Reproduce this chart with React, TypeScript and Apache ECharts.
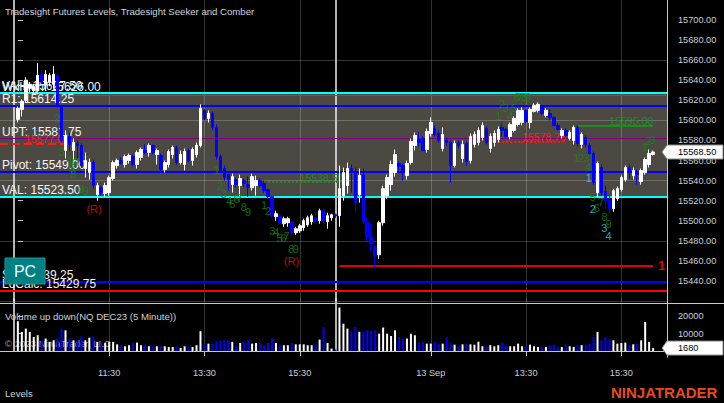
import React, { useEffect, useRef } from "react";
import * as echarts from "echarts";

const FONT = "'Liberation Sans', Arial, sans-serif";

// ---- NQ DEC23 5-minute bars, Sep 12 09:35 .. Sep 13 16:10 (RTH) ----
const opens = [
  15601, 15611, 15620, 15632, 15630, 15630, 15646, 15636, 15638, 15636,
  15645, 15614, 15570, 15584, 15570, 15577, 15575, 15552, 15548, 15558,
  15526, 15533, 15527, 15528, 15542, 15555, 15560, 15556, 15560, 15564,
  15556, 15563, 15570, 15568, 15575, 15566, 15565, 15551, 15556, 15566,
  15573, 15558, 15556, 15570, 15560, 15566, 15575, 15610, 15602, 15607,
  15593, 15564, 15552, 15546, 15536, 15541, 15535, 15540, 15536, 15533,
  15535, 15540, 15537, 15531, 15524, 15504, 15505, 15497, 15498, 15499,
  15488, 15490, 15493, 15496, 15499, 15503, 15500, 15510, 15499, 15503,
  15506,
  15505, 15525, 15535, 15552, 15549, 15526, 15546, 15499, 15484, 15474,
  15466, 15498, 15525, 15536, 15548, 15557, 15555, 15545, 15558, 15575,
  15581, 15582, 15571, 15587, 15592, 15587, 15572, 15580, 15578, 15555,
  15578, 15562, 15577, 15560, 15576, 15578, 15583, 15592, 15572, 15578,
  15581, 15593, 15591, 15584, 15590, 15596, 15598, 15610, 15598, 15609,
  15610, 15614, 15605, 15607, 15603, 15595, 15585, 15590, 15582, 15580,
  15593, 15576, 15583, 15575, 15567, 15528, 15553, 15529, 15521, 15512,
  15522, 15531, 15541, 15553, 15545, 15548, 15539, 15548, 15556, 15566,
];
const highs = [
  15614, 15621, 15643, 15638, 15636, 15657, 15650, 15650, 15647, 15654,
  15647, 15615, 15590, 15588, 15582, 15580, 15577, 15568, 15562, 15561,
  15538, 15535, 15538, 15545, 15560, 15562, 15563, 15566, 15567, 15566,
  15570, 15573, 15576, 15577, 15576, 15572, 15567, 15560, 15571, 15575,
  15575, 15570, 15572, 15572, 15573, 15578, 15616, 15611, 15610, 15609,
  15596, 15566, 15555, 15547, 15547, 15543, 15546, 15542, 15544, 15547,
  15545, 15542, 15540, 15532, 15525, 15510, 15506, 15504, 15504, 15500,
  15494, 15497, 15502, 15505, 15507, 15509, 15512, 15512, 15508, 15507,
  15507,
  15555, 15553, 15558, 15556, 15553, 15552, 15552, 15503, 15497, 15476,
  15500, 15535, 15546, 15560, 15571, 15559, 15557, 15560, 15582, 15588,
  15588, 15584, 15592, 15603, 15595, 15590, 15593, 15583, 15580, 15580,
  15580, 15580, 15579, 15587, 15589, 15593, 15598, 15594, 15587, 15590,
  15594, 15598, 15593, 15598, 15604, 15612, 15613, 15611, 15613, 15617,
  15618, 15615, 15612, 15611, 15604, 15597, 15592, 15592, 15590, 15595,
  15595, 15588, 15585, 15577, 15569, 15559, 15556, 15535, 15526, 15532,
  15534, 15545, 15555, 15556, 15553, 15551, 15552, 15563, 15571, 15570,
];
const lows = [
  15598, 15604, 15618, 15628, 15627, 15626, 15636, 15630, 15634, 15632,
  15613, 15578, 15562, 15570, 15560, 15562, 15553, 15543, 15541, 15532,
  15520, 15525, 15524, 15525, 15540, 15552, 15556, 15553, 15557, 15554,
  15552, 15560, 15566, 15564, 15566, 15556, 15549, 15548, 15553, 15562,
  15556, 15556, 15550, 15558, 15555, 15563, 15573, 15600, 15598, 15590,
  15561, 15548, 15540, 15530, 15528, 15533, 15525, 15533, 15524, 15530,
  15525, 15533, 15528, 15521, 15503, 15500, 15496, 15494, 15494, 15485,
  15486, 15488, 15490, 15494, 15496, 15497, 15497, 15497, 15492, 15500,
  15503,
  15494, 15520, 15527, 15528, 15510, 15518, 15497, 15480, 15470, 15454,
  15462, 15495, 15522, 15530, 15544, 15550, 15540, 15541, 15556, 15570,
  15574, 15569, 15568, 15584, 15584, 15578, 15569, 15575, 15538, 15553,
  15572, 15558, 15555, 15557, 15573, 15575, 15580, 15576, 15568, 15574,
  15578, 15584, 15582, 15581, 15588, 15594, 15595, 15597, 15592, 15608,
  15608, 15605, 15603, 15600, 15594, 15590, 15582, 15583, 15580, 15576,
  15574, 15572, 15573, 15566, 15536, 15524, 15525, 15512, 15508, 15509,
  15520, 15529, 15539, 15542, 15541, 15536, 15536, 15546, 15553, 15565,
];
const closes = [
  15612, 15619, 15640, 15636, 15634, 15645, 15638, 15646, 15645, 15646,
  15614, 15580, 15585, 15576, 15578, 15575, 15555, 15560, 15558, 15535,
  15535, 15528, 15535, 15543, 15558, 15560, 15557, 15564, 15565, 15556,
  15568, 15571, 15568, 15575, 15568, 15570, 15551, 15558, 15569, 15573,
  15558, 15566, 15569, 15560, 15571, 15575, 15612, 15602, 15607, 15593,
  15564, 15550, 15543, 15541, 15544, 15536, 15542, 15537, 15533, 15544,
  15540, 15535, 15530, 15524, 15505, 15507, 15498, 15502, 15502, 15488,
  15492, 15495, 15500, 15503, 15505, 15499, 15510, 15500, 15505, 15506,
  15505,
  15532, 15548, 15552, 15550, 15518, 15545, 15499, 15484, 15477, 15465,
  15498, 15532, 15543, 15556, 15566, 15554, 15548, 15557, 15579, 15585,
  15578, 15570, 15589, 15598, 15586, 15580, 15586, 15578, 15555, 15577,
  15575, 15576, 15559, 15584, 15586, 15590, 15595, 15578, 15584, 15587,
  15591, 15590, 15584, 15596, 15602, 15610, 15610, 15599, 15611, 15615,
  15616, 15607, 15610, 15603, 15595, 15591, 15590, 15585, 15588, 15593,
  15577, 15586, 15576, 15567, 15538, 15557, 15528, 15520, 15512, 15530,
  15532, 15543, 15553, 15549, 15550, 15546, 15550, 15561, 15567, 15568.5,
];
const volumes = [
  17000, 10900, 12800, 10900, 8000, 9000, 6100, 7100, 5200, 6100,
  7100, 12800, 11800, 7100, 6100, 5200, 8400, 6100, 7600, 8400,
  5200, 4200, 4600, 5200, 5200, 3800, 3300, 2700, 3300, 4800,
  4800, 3300, 3600, 2700, 2700, 2700, 2700, 2700, 2300, 2300,
  2700, 1700, 2700, 2700, 2300, 3300, 11300, 4200, 4200, 4200,
  5700, 6100, 6100, 6100, 5200, 3300, 4600, 5200, 6100, 4200,
  4600, 4600, 3300, 4600, 7100, 4600, 3600, 3300, 3300, 4600,
  3800, 3800, 3800, 3300, 3300, 3800, 6500, 13700, 4600, 1400,
  800,
  24800, 15600, 12800, 10900, 13700, 11000, 10900, 11800, 11500, 11800,
  9900, 13400, 9900, 8600, 11800, 8000, 7100, 7100, 9900, 9000,
  4600, 5200, 4200, 4200, 5300, 4200, 4200, 8000, 4800, 3600,
  2700, 3800, 4200, 3800, 3600, 5300, 2700, 2700, 3300, 2700,
  3300, 4800, 2900, 2700, 2700, 4200, 2700, 2700, 3600, 2700,
  2300, 2300, 2300, 3300, 3600, 2300, 2300, 3600, 2700, 2300,
  3600, 3300, 3600, 4200, 8000, 10900, 6100, 8000, 6700, 6100,
  4200, 4600, 4800, 3600, 3800, 4200, 6100, 16600, 5200, 1680,
];
const day1Bars = 81;
const day2Bars = 80;

// time axis labels
const tickBars = [23, 47, 71, 104, 128, 152];
const tickLabels = ["11:30", "13:30", "15:30", "13 Sep", "13:30", "15:30"];
const sessionBreakBars = [-1, 80];

// Tradesight levels
const levelNames = ["VAH", "WkHigh", "R1", "UPT", "Pivot", "VAL", "S1", "LoCalc"];
const levelValues = [15627.5, 15626.0, 15614.25, 15581.75, 15549.0, 15523.5, 15439.25, 15429.75];
const levelColors = ["#00ffff", "rgba(0,0,0,0)", "#0000ff", "#800080", "#0000ff", "#00ffff", "#0000ff", "#ff0000"];
const levelWidths = [2, 0, 2, 1, 2, 2, 2, 2];

// Seeker levels (segments)
const seekerValues = [15577.0, 15625.0, 15538.5, 15578.75, 15595.0, 15455.0];
const seekerFrom = [-4.5, 13, 63, 121, 141, 81];
const seekerTo = [12.8, 163.5, 82, 138, 160, 160];
const seekerLabels = ["15577.00", "", "15538.50", "15578.75", "15595.00", "1"];
const seekerColors = ["#ff1a1a", "#1f8a1f", "#1f8a1f", "#ff1a1a", "#1f8a1f", "#e00000"];
const seekerDash = ["dashed", "solid", "dotted", "dotted", "solid", "solid"];

// Comber counts: bar position, price, text, kind (g green, c cyan, r red)
const comberBar = [
  10.0, 11.1, 12.9, 13.6, 14.2, 15.0, 13.9, 15.9, 17.1, 19.2,
  50.1, 50.9, 51.9, 53.2, 54.0, 55.1, 55.9, 56.9, 58.0,
  62.0, 63.0, 64.1, 65.1, 66.0, 66.9, 67.7, 68.9, 70.0, 68.9,
  121.1, 121.9, 122.9, 124.0, 124.9, 125.7, 126.5, 127.5, 128.5,
  140.8, 141.9, 143.3, 143.7, 143.8, 144.8, 145.8, 146.9, 144.8, 147.8, 148.8, 147.7, 148.8,
  158.0, 158.8, 159.8,
];
const comberPrice = [
  15602.4, 15568.9, 15560.4, 15553.0, 15557.5, 15558.5, 15546.7, 15532.1, 15530.1, 15511.6,
  15550.3, 15534.7, 15526.5, 15520.0, 15516.7, 15521.3, 15522.3, 15513.5, 15508.6,
  15515.2, 15509.3, 15489.8, 15489.1, 15483.2, 15483.2, 15485.2, 15472.2, 15472.2, 15459.6,
  15604.6, 15616.7, 15612.8, 15604.6, 15612.8, 15623.2, 15623.2, 15623.2, 15623.2,
  15562.3, 15562.3, 15562.3, 15553.6, 15542.1, 15523.3, 15512.5, 15518.4, 15511.9, 15503.8, 15496.6, 15492.4, 15485.2,
  15573.1, 15579.6, 15580.9,
];
const comberText = [
  "2", "3", "4", "5", "6", "7", "8", "8", "9", "(R)",
  "1", "2", "3", "4", "5", "6", "7", "8", "9",
  "1", "2", "3", "4", "5", "6", "7", "8", "9", "(R)",
  "1", "2", "3", "4", "5", "6", "7", "8", "9",
  "1", "2", "3", "4", "1", "5", "6", "7", "2", "8", "9", "3", "4",
  "1", "2", "3",
];
const comberKind = [
  "g", "g", "g", "g", "g", "g", "g", "g", "g", "r",
  "g", "g", "g", "g", "g", "g", "g", "g", "g",
  "g", "g", "g", "g", "g", "g", "g", "g", "g", "r",
  "g", "g", "g", "g", "g", "g", "g", "g", "g",
  "g", "g", "g", "g", "c", "g", "g", "g", "c", "g", "g", "c", "c",
  "g", "g", "g",
];

const PAD_L = 4;
const PAD_R = 3;

const LABEL = "#c9d0d8";
const AXIS = "#c8c8c8";
const GRIDC = "rgba(255,255,255,0.2)";
const ZONE = "#4c4943";
const UP = "#ffffff";
const DOWN = "#0000ff";

function sessionTimes(n: number): string[] {
  const out: string[] = [];
  for (let k = 0; k < n; k++) {
    const m = 9 * 60 + 35 + 5 * k;
    out.push(`${Math.floor(m / 60)}:${String(m % 60).padStart(2, "0")}`);
  }
  return out;
}

export default function App() {
  const ref = useRef<HTMLDivElement>(null);
  useEffect(() => {
    document.body.style.margin = "0";
    document.body.style.background = "#000";
    const el = ref.current!;
    const chart = echarts.init(el, null, { renderer: "svg" });

    const nBars = opens.length;
    const categories = [
      ...Array(PAD_L).fill(""),
      ...sessionTimes(day1Bars),
      ...sessionTimes(day2Bars),
      ...Array(PAD_R).fill(""),
    ];
    const X_MIN = -PAD_L - 0.5;
    const X_MAX = nBars + PAD_R - 0.5;

    const candleData = opens.map((o, i) => [i + PAD_L, o, closes[i], lows[i], highs[i]]);
    const volData = volumes.map((v, i) => ({
      value: [i + PAD_L, v],
      itemStyle: { color: closes[i] >= opens[i] ? UP : DOWN },
    }));

    const tickSet = new Set(tickBars.map((b) => b + PAD_L));
    const showTick = (idx: number) => tickSet.has(idx);

    const kindColor: Record<string, string> = { g: "#0c8c0c", c: "#2fd6ee", r: "#e31010" };
    const comberItems = comberBar.map((b, i) => ({
      value: [b, comberPrice[i]],
      name: comberText[i],
      label: { color: kindColor[comberKind[i]], fontSize: 11 },
    }));

    const priceMarkLines: any[] = [];
    for (let v = 15420; v <= 15660; v += 60) {
      priceMarkLines.push({ yAxis: v, lineStyle: { color: GRIDC, width: 1, type: "solid" }, label: { show: false } });
    }
    tickBars.forEach((b) =>
      priceMarkLines.push({ xAxis: b, lineStyle: { color: GRIDC, width: 1, type: "solid" }, label: { show: false } })
    );
    sessionBreakBars.forEach((b) =>
      priceMarkLines.push({ xAxis: b, lineStyle: { color: "#f0f0f0", width: 1.5, type: "solid" }, label: { show: false } })
    );
    levelValues.forEach((v, i) =>
      priceMarkLines.push({
        yAxis: v,
        lineStyle: { color: levelColors[i], width: levelWidths[i], type: "solid" },
        label: {
          show: true,
          position: "insideStartTop",
          distance: [2, 1],
          formatter: `${levelNames[i]}: ${v.toFixed(2)}`,
          color: "#f4f4f4",
          fontSize: 12,
          fontFamily: FONT,
        },
      })
    );
    seekerValues.forEach((v, i) => {
      const isEndLabel = seekerLabels[i] === "1";
      priceMarkLines.push([
        {
          coord: [seekerFrom[i], v],
          lineStyle: { color: seekerColors[i], width: i === 1 ? 1 : 2, type: seekerDash[i] },
          label: {
            show: seekerLabels[i] !== "",
            position: isEndLabel ? "end" : "insideEndTop",
            distance: isEndLabel ? 5 : [0, -1],
            formatter: seekerLabels[i],
            color: seekerColors[i],
            fontSize: isEndLabel ? 13 : 10.5,
            fontWeight: isEndLabel ? "bold" : "normal",
            fontFamily: FONT,
          },
        },
        { coord: [seekerTo[i], v] },
      ]);
    });

    const volMarkLines: any[] = [];
    tickBars.forEach((b) =>
      volMarkLines.push({ xAxis: b + PAD_L, lineStyle: { color: GRIDC, width: 1, type: "solid" }, label: { show: false } })
    );
    sessionBreakBars.forEach((b) =>
      volMarkLines.push({ xAxis: b + PAD_L, lineStyle: { color: "#f0f0f0", width: 1.5, type: "solid" }, label: { show: false } })
    );

    const option: any = {
      animation: false,
      backgroundColor: "#000000",
      grid: [
        { left: -1, right: 57, top: -6.2, height: 307.2 },
        { left: -1, right: 57, top: 298.5, height: 52.5 },
      ],
      xAxis: [
        { type: "category", gridIndex: 0, data: categories, boundaryGap: true, show: false },
        {
          type: "category",
          gridIndex: 1,
          data: categories,
          boundaryGap: true,
          offset: 6,
          axisLine: { show: true, lineStyle: { color: AXIS, width: 1 } },
          axisTick: { show: true, interval: showTick, alignWithLabel: true, length: 5, lineStyle: { color: AXIS } },
          axisLabel: {
            interval: showTick,
            formatter: (_v: string, idx: number) => {
              const k = tickBars.indexOf(idx - PAD_L);
              return k >= 0 ? tickLabels[k] : "";
            },
            color: LABEL,
            fontSize: 9.2,
            fontFamily: FONT,
            margin: 11,
          },
          splitLine: { show: false },
        },
        { type: "value", gridIndex: 0, min: X_MIN, max: X_MAX, show: false },
        { type: "value", gridIndex: 1, min: X_MIN, max: X_MAX, show: false },
      ],
      yAxis: [
        {
          type: "value",
          gridIndex: 0,
          position: "right",
          min: 15420,
          max: 15720,
          interval: 20,
          axisLine: { show: false },
          axisTick: { show: true, length: 5, lineStyle: { color: AXIS } },
          axisLabel: {
            color: LABEL,
            fontSize: 9.2,
            fontFamily: FONT,
            margin: 11,
            showMinLabel: false,
            showMaxLabel: false,
            formatter: (v: number) => v.toFixed(2),
          },
          splitLine: { show: false },
        },
        {
          type: "value",
          gridIndex: 1,
          position: "right",
          min: 0,
          max: 30000,
          interval: 10000,
          axisLine: { show: false },
          axisTick: { show: true, length: 5, lineStyle: { color: AXIS } },
          axisLabel: {
            color: LABEL,
            fontSize: 9.2,
            fontFamily: FONT,
            margin: 11,
            showMinLabel: false,
            showMaxLabel: false,
            formatter: (v: number) => String(v),
          },
          splitLine: { show: false },
        },
      ],
      series: [
        {
          name: "NQ DEC23",
          type: "candlestick",
          xAxisIndex: 0,
          yAxisIndex: 0,
          z: 3,
          barWidth: 3,
          encode: { x: 0, y: [1, 2, 3, 4] },
          data: candleData,
          itemStyle: { color: UP, color0: DOWN, borderColor: UP, borderColor0: DOWN, borderWidth: 1 },
        },
        {
          name: "Comber",
          type: "scatter",
          xAxisIndex: 2,
          yAxisIndex: 0,
          z: 4,
          symbolSize: 1,
          itemStyle: { color: "rgba(0,0,0,0)" },
          data: comberItems,
          label: { show: true, position: "inside", formatter: "{b}", fontFamily: FONT },
          markArea: {
            silent: true,
            z: 1,
            itemStyle: { color: ZONE },
            data: [[{ yAxis: levelValues[5] }, { yAxis: levelValues[0] }]],
          },
          markLine: {
            silent: true,
            z: 2,
            symbol: "none",
            precision: 2,
            data: priceMarkLines,
          },
        },
        {
          name: "Volume",
          type: "bar",
          xAxisIndex: 1,
          yAxisIndex: 1,
          z: 3,
          barWidth: 2,
          data: volData,
          markLine: { silent: true, z: 2, symbol: "none", data: volMarkLines },
        },
      ],
    };
    chart.setOption(option);

    const lastClose = closes[closes.length - 1];
    const lastVol = volumes[volumes.length - 1];
    const py = chart.convertToPixel({ yAxisIndex: 0 }, lastClose) as number;
    const vy = chart.convertToPixel({ yAxisIndex: 1 }, lastVol) as number;

    const tag = (y: number, text: string) => [
      {
        type: "polygon",
        z: 50,
        shape: { points: [[662, y], [667, y - 7], [723, y - 7], [723, y + 7], [667, y + 7]] },
        style: { fill: "#ffffff", stroke: "#8a8a8a", lineWidth: 1 },
      },
      {
        type: "text",
        z: 51,
        x: 678,
        y: y,
        style: { text, fill: "#000000", fontSize: 9.2, fontFamily: FONT, verticalAlign: "middle" },
      },
    ];

    const txt = (x: number, y: number, text: string, extra: any = {}, z = 20) => ({
      type: "text",
      z,
      x,
      y,
      style: { text, fill: "#cfd2d6", fontSize: 9.6, fontFamily: FONT, verticalAlign: "middle", ...extra },
    });

    chart.setOption({
      graphic: {
        elements: [
          txt(5, 11, "Tradesight Futures Levels, Tradesight Seeker and Comber"),
          txt(5, 316, "Volume up down(NQ DEC23 (5 Minute))"),
          txt(5, 343.5, "© 2023 NinjaTrader, LLC", { fill: "#9a9a9a" }, 1),
          txt(5, 393.5, "Levels"),
          txt(611, 392, "NINJATRADER", { fill: "#e9491f", fontSize: 15, fontWeight: "bold" }),
          {
            type: "line",
            z: 30,
            shape: { x1: 0, y1: 303.5, x2: 724, y2: 303.5 },
            style: { stroke: AXIS, lineWidth: 1 },
          },
          {
            type: "line",
            z: 30,
            shape: { x1: 667.5, y1: 0, x2: 667.5, y2: 357.5 },
            style: { stroke: AXIS, lineWidth: 1 },
          },
          {
            type: "rect",
            z: 60,
            shape: { x: 5, y: 258, width: 40, height: 26 },
            style: { fill: "#008080", stroke: "#139a9a", lineWidth: 1 },
          },
          txt(25, 271.5, "PC", { fill: "#f0ffff", fontSize: 16, align: "center" }, 61),
          ...tag(py, lastClose.toFixed(2)),
          ...tag(vy, String(lastVol)),
        ],
      },
    });

    return () => chart.dispose();
  }, []);
  return (
    <div
      ref={ref}
      style={{ position: "fixed", left: 0, top: 0, width: 724, height: 403, background: "#000" }}
    />
  );
}
